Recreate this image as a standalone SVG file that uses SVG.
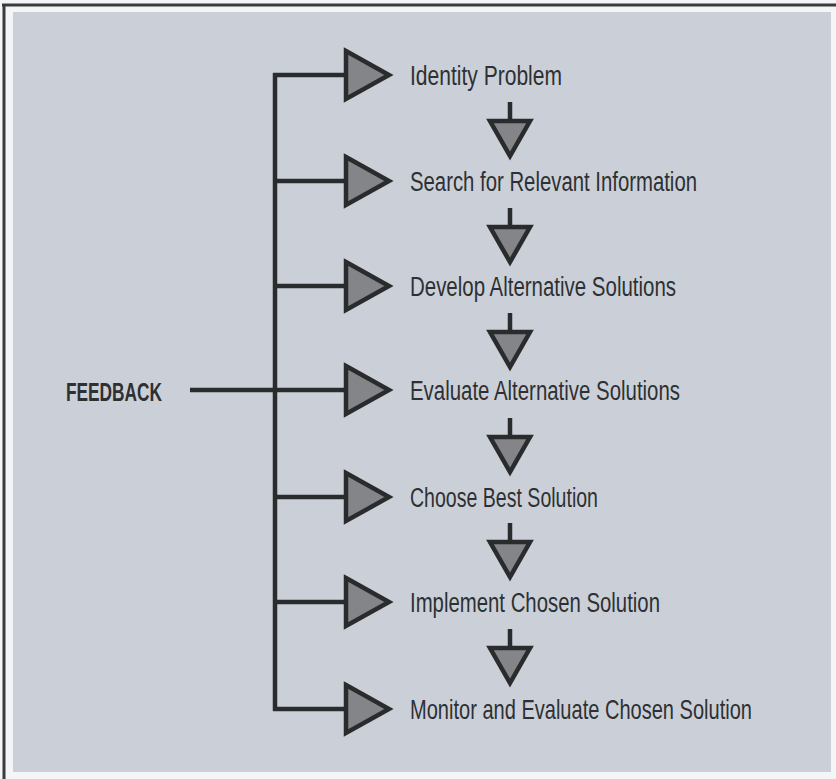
<svg xmlns="http://www.w3.org/2000/svg" width="836" height="779" viewBox="0 0 836 779">
<style>
.ln{stroke:#2a2b2d;stroke-width:4.5;fill:none;stroke-linecap:butt}
.tri{fill:#838589;stroke:#2a2b2d;stroke-width:4.5;stroke-linejoin:miter}
.lbl{font-family:"Liberation Sans Narrow","Liberation Sans",Arial,sans-serif;font-size:27px;fill:#2e3033}
.fb{font-family:"Liberation Sans Narrow","Liberation Sans",Arial,sans-serif;font-size:25px;font-weight:bold;fill:#2e3033}
</style>
<defs>
<polygon id="rt" class="tri" points="0,-24 43,0 0,24"/>
<g id="dn"><line class="ln" x1="0" y1="0" x2="0" y2="19"/><polygon class="tri" points="-20,19 20,19 0,54"/></g>
</defs>
<rect x="0" y="0" width="836" height="779" fill="#f4f5f7"/>
<rect x="13" y="12" width="818" height="760" fill="#cbd0d8"/>
<line x1="2" y1="5" x2="836" y2="5" stroke="#3a3b3d" stroke-width="3"/>
<line x1="4" y1="4" x2="4" y2="779" stroke="#3a3b3d" stroke-width="3"/>
<g id="connectors">
<line class="ln" x1="275" y1="73" x2="275" y2="711"/>
<line class="ln" x1="273" y1="75" x2="346" y2="75"/>
<line class="ln" x1="273" y1="181" x2="346" y2="181"/>
<line class="ln" x1="273" y1="286" x2="346" y2="286"/>
<line class="ln" x1="190" y1="390" x2="346" y2="390"/>
<line class="ln" x1="273" y1="497" x2="346" y2="497"/>
<line class="ln" x1="273" y1="602" x2="346" y2="602"/>
<line class="ln" x1="273" y1="709" x2="346" y2="709"/>
<use href="#rt" x="346" y="75"/>
<use href="#rt" x="346" y="181"/>
<use href="#rt" x="346" y="286"/>
<use href="#rt" x="346" y="390"/>
<use href="#rt" x="346" y="497"/>
<use href="#rt" x="346" y="602"/>
<use href="#rt" x="346" y="709"/>
<use href="#dn" x="510" y="102"/>
<use href="#dn" x="510" y="208"/>
<use href="#dn" x="510" y="313"/>
<use href="#dn" x="510" y="418"/>
<use href="#dn" x="510" y="523"/>
<use href="#dn" x="510" y="629"/>
</g>
<g id="feedback"><text class="fb" x="66" y="401" textLength="96" lengthAdjust="spacingAndGlyphs">FEEDBACK</text></g>
<g id="n1"><text class="lbl" x="410" y="85" textLength="152" lengthAdjust="spacingAndGlyphs">Identity Problem</text></g>
<g id="n2"><text class="lbl" x="410" y="191" textLength="287" lengthAdjust="spacingAndGlyphs">Search for Relevant Information</text></g>
<g id="n3"><text class="lbl" x="410" y="296" textLength="266" lengthAdjust="spacingAndGlyphs">Develop Alternative Solutions</text></g>
<g id="n4"><text class="lbl" x="410" y="400" textLength="270" lengthAdjust="spacingAndGlyphs">Evaluate Alternative Solutions</text></g>
<g id="n5"><text class="lbl" x="410" y="507" textLength="188" lengthAdjust="spacingAndGlyphs">Choose Best Solution</text></g>
<g id="n6"><text class="lbl" x="410" y="612" textLength="250" lengthAdjust="spacingAndGlyphs">Implement Chosen Solution</text></g>
<g id="n7" transform="translate(410 0) scale(0.8 1)"><text class="lbl" x="0" y="719" textLength="427.5" lengthAdjust="spacingAndGlyphs">Monitor and Evaluate Chosen Solution</text></g>
</svg>
